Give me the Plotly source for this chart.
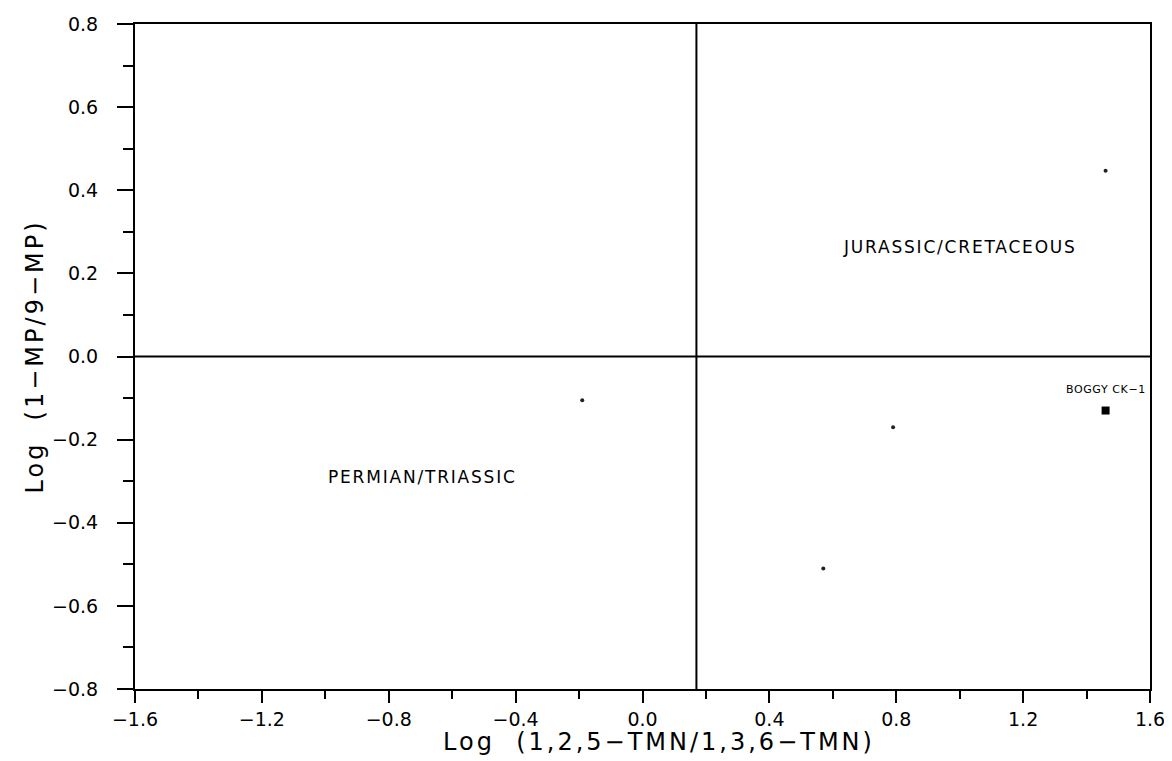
import plotly.graph_objects as go

# Data
sample_names = ["BOGGY CK−1"]
sample_x = [1.46]
sample_y = [-0.13]

faint_x = [1.46, 0.79, 0.57, -0.19]
faint_y = [0.447, -0.17, -0.51, -0.105]

boundary_x = 0.17
boundary_y = 0.0

region_labels = ["JURASSIC/CRETACEOUS", "PERMIAN/TRIASSIC"]
region_x = [1.0, -0.695]
region_y = [0.263, -0.29]

x_range = [-1.6, 1.6]
y_range = [-0.8, 0.8]

x_title = "Log  (1,2,5−TMN/1,3,6−TMN)"
y_title = "Log  (1−MP/9−MP)"

FONT = "DejaVu Sans, Verdana, sans-serif"


def spaced(text, px):
    return f'<span style="letter-spacing:{px}px">{text}</span>'


fig = go.Figure()

# quadrant boundaries
fig.add_trace(go.Scatter(x=x_range, y=[boundary_y, boundary_y], mode="lines",
                         line=dict(color="black", width=2), hoverinfo="skip", showlegend=False))
fig.add_trace(go.Scatter(x=[boundary_x, boundary_x], y=y_range, mode="lines",
                         line=dict(color="black", width=2), hoverinfo="skip", showlegend=False))

# faint points
fig.add_trace(go.Scatter(x=faint_x, y=faint_y, mode="markers",
                         marker=dict(symbol="circle", size=4, color="#222"),
                         showlegend=False))

# main sample
fig.add_trace(go.Scatter(x=sample_x, y=sample_y, mode="markers",
                         marker=dict(symbol="square", size=8, color="black"),
                         showlegend=False))
for t, x, y in zip(sample_names, sample_x, sample_y):
    fig.add_annotation(x=x, y=y, text=spaced(t, 0.6), showarrow=False, yshift=21,
                       font=dict(family=FONT, size=11, color="black"))

for t, x, y in zip(region_labels, region_x, region_y):
    fig.add_annotation(x=x, y=y, text=spaced(t, 1.8), showarrow=False,
                       font=dict(family=FONT, size=17, color="black"))

# axis titles
fig.add_annotation(xref="paper", yref="paper", x=0.516, y=0, yshift=-53,
                   text=spaced(x_title, 3), showarrow=False, xanchor="center", yanchor="middle",
                   font=dict(family=FONT, size=24, color="black"))
fig.add_annotation(xref="paper", yref="paper", x=0, y=0.5, xshift=-101,
                   text=spaced(y_title, 3), showarrow=False, textangle=-90,
                   xanchor="center", yanchor="middle",
                   font=dict(family=FONT, size=24, color="black"))

axis_common = dict(showgrid=False, zeroline=False, showline=True, linecolor="black",
                   linewidth=2, mirror=True, ticks="outside", tickcolor="black",
                   tickwidth=2, tickfont=dict(family=FONT, size=19, color="black"))

fig.update_xaxes(range=x_range, dtick=0.4, tick0=-1.6, ticklen=12, tickformat=".1f",
                 ticklabelstandoff=0,
                 minor=dict(dtick=0.2, tick0=-1.6, ticks="outside", ticklen=8,
                            tickcolor="black", tickwidth=2),
                 **axis_common)
fig.update_yaxes(range=y_range, dtick=0.2, tick0=-0.8, ticklen=16, tickformat=".1f",
                 ticklabelstandoff=15,
                 minor=dict(dtick=0.1, tick0=-0.8, ticks="outside", ticklen=10,
                            tickcolor="black", tickwidth=2),
                 **axis_common)

fig.update_layout(width=1172, height=761, plot_bgcolor="white", paper_bgcolor="white",
                  margin=dict(l=127, r=30, t=16, b=80, autoexpand=False),
                  showlegend=False)

fig.write_html("out.html")
